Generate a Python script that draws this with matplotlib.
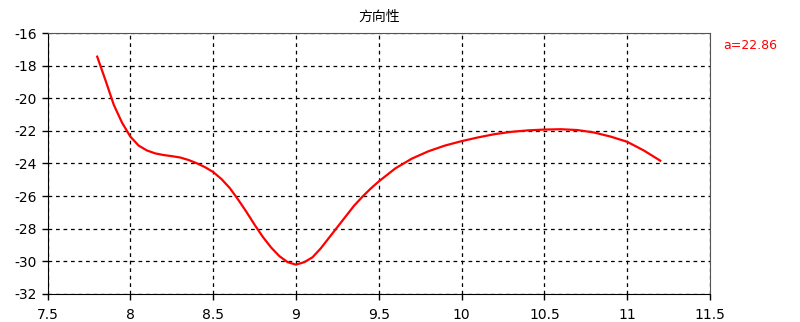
import matplotlib
matplotlib.use("Agg")
import matplotlib.pyplot as plt

plt.rcParams['font.family'] = ['DejaVu Sans', 'Noto Sans CJK SC']

x_vals = [7.80, 7.85, 7.90, 7.95, 8.00, 8.05, 8.10, 8.15, 8.20, 8.25, 8.30, 8.35,
          8.40, 8.45, 8.50, 8.55, 8.60, 8.65, 8.70, 8.75, 8.80, 8.85, 8.90, 8.95,
          9.00, 9.05, 9.10, 9.15, 9.20, 9.25, 9.30, 9.35, 9.40, 9.45, 9.50, 9.60,
          9.70, 9.80, 9.90, 10.00, 10.10, 10.20, 10.30, 10.40, 10.50, 10.60, 10.70,
          10.80, 10.90, 11.00, 11.10, 11.20]
y_vals = [-17.45, -18.9, -20.4, -21.5, -22.35, -22.9, -23.2, -23.38, -23.48, -23.55, -23.63, -23.78,
          -23.98, -24.22, -24.52, -24.95, -25.5, -26.2, -26.95, -27.75, -28.5, -29.15, -29.68, -30.05,
          -30.2, -30.05, -29.75, -29.2, -28.55, -27.9, -27.25, -26.6, -26.05, -25.55, -25.1, -24.3,
          -23.7, -23.25, -22.9, -22.63, -22.4, -22.2, -22.06, -21.97, -21.92, -21.9, -21.95,
          -22.1, -22.35, -22.67, -23.2, -23.83]

x_ticks = [7.5, 8, 8.5, 9, 9.5, 10, 10.5, 11, 11.5]
x_tick_labels = ['7.5', '8', '8.5', '9', '9.5', '10', '10.5', '11', '11.5']
y_ticks = [-32, -30, -28, -26, -24, -22, -20, -18, -16]
title = '方向性'
note = 'a=22.86'

fig = plt.figure(figsize=(8, 3.22), dpi=100)
ax = fig.add_axes([0.0594, 0.087, 0.8281, 0.8105])
ax.plot(x_vals, y_vals, color='#ff0000', linewidth=1.6, solid_joinstyle='round')
ax.set_xlim(7.5, 11.5)
ax.set_ylim(-32, -16)
ax.set_xticks(x_ticks)
ax.set_xticklabels(x_tick_labels)
ax.set_yticks(y_ticks)
ax.set_yticklabels([str(v) for v in y_ticks])
ax.grid(True, color='black', linestyle=(0, (3, 3)), linewidth=0.9)
ax.tick_params(axis='both', direction='out', length=4, width=1, labelsize=10, colors='black')
ax.tick_params(axis='x', pad=6)
for side in ['left', 'bottom']:
    ax.spines[side].set_color('black')
for side in ['top', 'right']:
    ax.spines[side].set_color('#555555')
ax.set_title(title, fontsize=10, pad=9)
fig.text(0.904, 0.86, note, color='#ff0000', fontsize=9, ha='left', va='center')
fig.savefig('out.png', dpi=100)
